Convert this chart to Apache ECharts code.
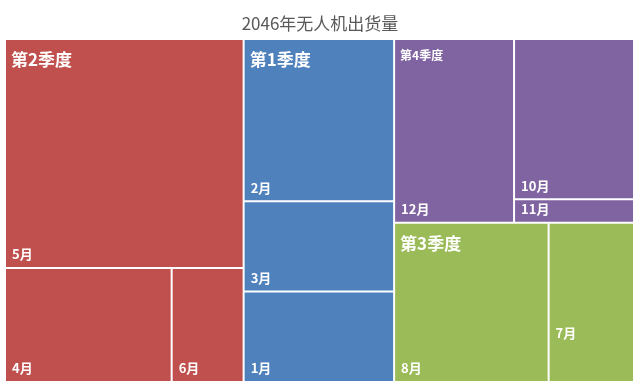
<!DOCTYPE html>
<html>
<head>
<meta charset="utf-8">
<script src="https://cdn.jsdelivr.net/npm/echarts@6/dist/echarts.min.js"></script>
<style>
html,body{margin:0;padding:0;background:#fff;}
#chart{width:640px;height:389px;}
</style>
</head>
<body>
<div id="chart"></div>
<script>
// ---- data ----
const titleText = '2046年无人机出货量';
const quarters = ['第2季度', '第1季度', '第4季度', '第3季度'];
const months = [
  ['5月', '4月', '6月'],
  ['2月', '1月', '3月'],
  ['12月', '10月', '11月'],
  ['8月', '7月']
];
const values = [
  [253, 88, 38],
  [113, 63, 63],
  [102, 89, 13],
  [114, 63]
];

// ---- styles ----
const quarterColors = ['#C0504D', '#4F81BD', '#8064A2', '#9BBB59'];
const FONT = '"Noto Sans CJK SC", "Noto Sans", sans-serif';
const parentLabelStyle = { '第4季度': { fontSize: 12, pad: 4 } };
const leafLabelLift = { '7月': 35 };

const box = { left: 6, top: 40, width: 627, height: 341 };

function buildData(overlay) {
  return quarters.map((q, qi) => {
    let maxIdx = 0;
    values[qi].forEach((v, i) => { if (v > values[qi][maxIdx]) maxIdx = i; });
    const ps = parentLabelStyle[q] || { fontSize: 17, pad: 6 };
    const col = overlay ? 'rgba(0,0,0,0)' : quarterColors[qi];
    return {
      name: q,
      itemStyle: overlay ? { color: col, borderColor: col } : { color: col, borderColor: '#ffffff' },
      children: months[qi].map((m, i) => {
        const node = { name: m, value: values[qi][i], itemStyle: { color: col } };
        if (overlay) {
          node.itemStyle.borderColor = col;
          if (i === maxIdx) {
            node.label = {
              show: true, position: 'insideTopLeft', distance: 5,
              formatter: q, fontSize: ps.fontSize, padding: [ps.pad, 0, 0, 0],
              overflow: 'none'
            };
          } else {
            node.label = { show: false };
          }
        } else if (leafLabelLift[m] != null) {
          node.label = { offset: [0, -leafLabelLift[m]] };
        }
        return node;
      })
    };
  });
}

function series(overlay) {
  const bc = overlay ? 'rgba(0,0,0,0)' : '#ffffff';
  return {
    type: 'treemap',
    left: box.left, top: box.top, width: box.width, height: box.height,
    roam: false, nodeClick: false, silent: overlay,
    breadcrumb: { show: false },
    squareRatio: 0.6,
    sort: 'desc',
    z: overlay ? 3 : 2,
    color: overlay ? ['rgba(0,0,0,0)'] : quarterColors,
    label: {
      show: !overlay, position: 'insideBottomLeft', distance: 6, padding: 0,
      color: '#ffffff', fontWeight: 'bold', fontSize: 13, fontFamily: FONT,
      overflow: 'none'
    },
    upperLabel: { show: false },
    emphasis: { disabled: true },
    itemStyle: { borderColor: bc },
    levels: [
      { itemStyle: { borderWidth: 0, gapWidth: 2, borderColor: bc } },
      { itemStyle: { borderWidth: 0, gapWidth: 2, borderColor: bc } },
      { itemStyle: { borderWidth: 0, gapWidth: 0 } }
    ],
    data: buildData(overlay)
  };
}

const chart = echarts.init(document.getElementById('chart'), null, { renderer: 'canvas' });
const s2 = series(true);
s2.label = { show: false, color: '#ffffff', fontWeight: 'bold', fontFamily: FONT };
chart.setOption({
  animation: false,
  backgroundColor: '#ffffff',
  title: {
    text: titleText, left: 'center', top: 10,
    textStyle: { color: '#595959', fontSize: 17, fontWeight: 'normal', fontFamily: FONT }
  },
  tooltip: { show: false },
  series: [series(false), s2]
});
</script>
</body>
</html>
